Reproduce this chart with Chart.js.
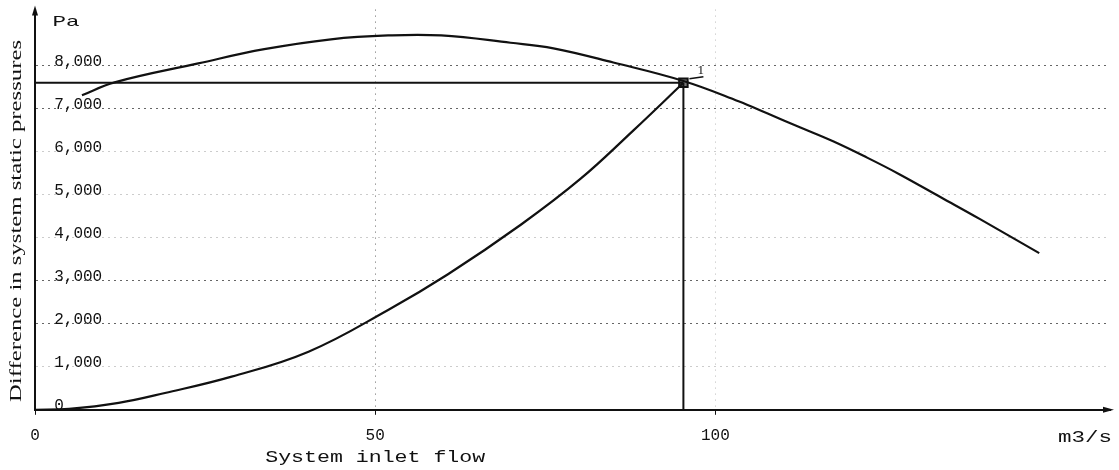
<!DOCTYPE html>
<html>
<head>
<meta charset="utf-8">
<script src="https://cdn.jsdelivr.net/npm/chart.js@4.4.1/dist/chart.umd.min.js"></script>
<style>
  html, body { margin: 0; padding: 0; background: #fff; }
  #wrap { width: 1119px; height: 470px; }
</style>
</head>
<body>
<div id="wrap"><canvas id="chart"></canvas></div>
<script>
// fan curve
const fanFlow = [6.9, 11.7, 24.0, 33.7, 43.5, 51.9, 59.7, 69.9, 76.2, 85.0, 95.3, 103.4, 107.6, 112.5, 117.3, 122.3, 127.1, 133.0, 138.9, 147.6];
const fanPressure = [7310, 7610, 8050, 8380, 8610, 8700, 8700, 8530, 8400, 8070, 7640, 7170, 6890, 6560, 6240, 5860, 5470, 4950, 4430, 3640];

// system curve
const sysFlow = [0, 5, 12.3, 19.1, 28.9, 40.2, 51.9, 60.7, 71.4, 80.2, 88.0, 95.3];
const sysPressure = [0, 20, 160, 390, 770, 1350, 2320, 3150, 4300, 5370, 6500, 7600];

// operating point 1
const opFlow = [95.3];
const opPressure = [7600];
const opLabels = ["1"];

const xTicks = [0, 50, 100];
const yTicks = [0, 1000, 2000, 3000, 4000, 5000, 6000, 7000, 8000];

const xMax = 158;
const yMax = 9300;

function pts(xs, ys) {
  return xs.map((x, i) => ({ x: x, y: ys[i] }));
}

// darker dotted gridlines where the scan shows them
const strongGrid = [2000, 3000, 7000, 8000];

// stretch text to a given width (the scan is wide)
function wideText(ctx, text, x, y, width, font, align) {
  ctx.save();
  ctx.font = font;
  const w = ctx.measureText(text).width;
  const s = width / w;
  ctx.translate(x, y);
  ctx.scale(s, 1);
  ctx.textAlign = align || "center";
  ctx.textBaseline = "middle";
  ctx.fillText(text, 0, 0);
  ctx.restore();
}

const extras = {
  id: "extras",
  afterDraw(chart) {
    const ctx = chart.ctx;
    const xs = chart.scales.x, ys = chart.scales.y;
    const x0 = xs.getPixelForValue(0);
    const y0 = ys.getPixelForValue(0);
    const top = chart.chartArea.top;
    const right = chart.chartArea.right;

    ctx.save();
    ctx.fillStyle = "#111";
    ctx.strokeStyle = "#111";
    ctx.lineWidth = 1.5;

    // arrow heads
    ctx.beginPath();
    ctx.moveTo(x0, top - 4);
    ctx.lineTo(x0 - 3, top + 6);
    ctx.lineTo(x0 + 3, top + 6);
    ctx.closePath();
    ctx.fill();
    ctx.beginPath();
    ctx.moveTo(right + 4, y0);
    ctx.lineTo(right - 7, y0 - 3);
    ctx.lineTo(right - 7, y0 + 3);
    ctx.closePath();
    ctx.fill();

    // unit labels
    wideText(ctx, "Pa", x0 + 31, 22, 27, "15px 'Liberation Mono'");
    wideText(ctx, "m3/s", right - 25, y0 + 28, 54, "16px 'Liberation Mono'");
    wideText(ctx, "System inlet flow", xs.getPixelForValue(50), y0 + 48, 220, "16px 'Liberation Mono'");

    // y title
    ctx.save();
    ctx.translate(17, 221);
    ctx.rotate(-Math.PI / 2);
    wideText(ctx, "Difference in system static pressures", 0, 0, 362, "17px 'Liberation Serif'");
    ctx.restore();

    // operating point label
    ctx.font = "13px 'Liberation Serif'";
    ctx.textAlign = "left";
    ctx.textBaseline = "middle";
    opLabels.forEach((t, i) => {
      const px = xs.getPixelForValue(opFlow[i]);
      const py = ys.getPixelForValue(opPressure[i]);
      ctx.fillText(t, px + 14, py - 12);
      ctx.beginPath();
      ctx.moveTo(px + 6, py - 4);
      ctx.lineTo(px + 20, py - 6);
      ctx.stroke();
    });
    ctx.restore();
  }
};

const ctx = document.getElementById("chart").getContext("2d");

const chart = new Chart(ctx, {
  type: "scatter",
  data: {
    datasets: [
      {
        label: "crosshair h",
        data: [{ x: 0, y: opPressure[0] }, { x: opFlow[0], y: opPressure[0] }],
        showLine: true, borderColor: "#111", borderWidth: 2, pointRadius: 0
      },
      {
        label: "crosshair v",
        data: [{ x: opFlow[0], y: opPressure[0] }, { x: opFlow[0], y: 0 }],
        showLine: true, borderColor: "#111", borderWidth: 2, pointRadius: 0
      },
      {
        label: "Fan",
        data: pts(fanFlow, fanPressure),
        showLine: true, borderColor: "#111", borderWidth: 2.2, pointRadius: 0,
        tension: 0.4
      },
      {
        label: "System",
        data: pts(sysFlow, sysPressure),
        showLine: true, borderColor: "#111", borderWidth: 2.2, pointRadius: 0,
        tension: 0.4
      },
      {
        label: "Operating point",
        data: pts(opFlow, opPressure),
        pointStyle: "rect", pointRadius: 6, borderColor: "#111", borderWidth: 2,
        backgroundColor: "#777"
      }
    ]
  },
  options: {
    responsive: true,
    maintainAspectRatio: false,
    animation: false,
    layout: { padding: { left: 35, right: 9, top: 8, bottom: 14 } },
    plugins: {
      legend: { display: false },
      tooltip: { enabled: false }
    },
    scales: {
      x: {
        type: "linear",
        min: 0,
        max: xMax,
        afterBuildTicks: (axis) => { axis.ticks = xTicks.map(v => ({ value: v })); },
        border: { display: true, color: "#111", width: 2, dash: [1, 5] },
        grid: {
          color: (c) => (c.tick && c.tick.value === 50 ? "#666" : "#bbb"),
          lineWidth: 1,
          drawTicks: true,
          tickLength: 5,
          tickColor: "#111",
          tickBorderDash: []
        },
        ticks: {
          color: "#111",
          padding: 11,
          maxRotation: 0,
          font: { family: "'Liberation Mono'", size: 16 }
        }
      },
      y: {
        type: "linear",
        min: 0,
        max: yMax,
        afterBuildTicks: (axis) => { axis.ticks = yTicks.map(v => ({ value: v })); },
        border: { display: true, color: "#111", width: 2, dash: [2, 4] },
        grid: {
          color: (c) => (c.tick && strongGrid.includes(c.tick.value) ? "#666" : "#ccc"),
          lineWidth: 1,
          drawTicks: false
        },
        ticks: {
          mirror: true,
          padding: 0,
          labelOffset: -4,
          color: "#111",
          font: { family: "'Liberation Mono'", size: 16 },
          // leading spaces keep the labels off the axis line
          callback: (v) => "  " + v.toLocaleString("en-US")
        }
      }
    }
  },
  plugins: [extras]
});
</script>
</body>
</html>
